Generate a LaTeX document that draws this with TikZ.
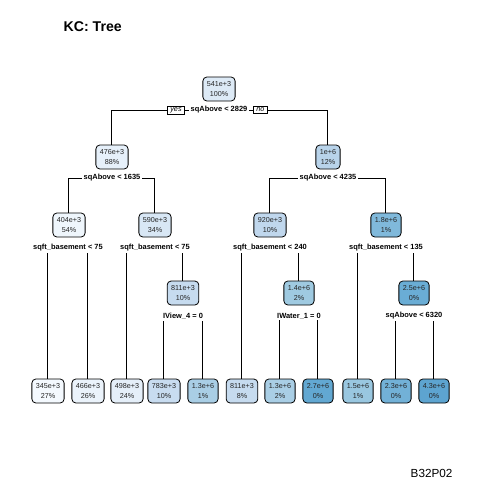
\documentclass[tikz,border=0pt]{standalone}
\usepackage{fontspec}
\setmainfont{Liberation Sans}
\usetikzlibrary{backgrounds}
\definecolor{v345}{HTML}{F4F9FE}
\definecolor{v404}{HTML}{EFF6FC}
\definecolor{v466}{HTML}{EBF3FB}
\definecolor{v476}{HTML}{E6F0FA}
\definecolor{v498}{HTML}{E5EFF9}
\definecolor{v541}{HTML}{DDEAF6}
\definecolor{v590}{HTML}{D8E7F5}
\definecolor{v783}{HTML}{C8DCF0}
\definecolor{v811}{HTML}{C6DBEF}
\definecolor{v920}{HTML}{C0D7ED}
\definecolor{v1000}{HTML}{B8D3EA}
\definecolor{v1300}{HTML}{A9CEE5}
\definecolor{v1400}{HTML}{9FCAE1}
\definecolor{v1500}{HTML}{99C7E0}
\definecolor{v1800}{HTML}{80B9DB}
\definecolor{v2300}{HTML}{72B1D7}
\definecolor{v2500}{HTML}{6AADD5}
\definecolor{v2700}{HTML}{62A8D2}
\definecolor{v4300}{HTML}{5DA4D0}
\begin{document}
\begin{tikzpicture} [
                x=0.75pt, y=-0.75pt,
                box/.style={draw, line width=0.6pt, rounded corners=3pt, align=center,
                    inner xsep=3pt, inner ysep=0pt, minimum height=18pt,
                    font=\fontsize{5.4}{7.4}\selectfont, text=black!85},
                split/.style={fill=white, inner sep=1pt, font=\bfseries\fontsize{5.6}{6}\selectfont},
                answer/.style={draw, fill=white, line width=0.6pt, inner xsep=2pt, inner ysep=1pt,
                    font=\itshape\fontsize{5.4}{6}\selectfont},
                edge/.style={draw, line width=0.75pt, -},
            ]
            \useasboundingbox (0,0) rectangle (480,480);
            % Title and tag
            \node[anchor=base west, font=\bfseries\fontsize{10.6}{12}\selectfont] (title) at (59,31) {KC: Tree};
            \node[anchor=base west, font=\fontsize{8.8}{10}\selectfont] (tag) at (406,477) {B32P02};
            % First we draw the boxes
            \foreach \pos/\name/\val/\pct/\col in {
                    {(219,89)/n1/541e+3/100\%/v541},
                    {(112,157)/n2/476e+3/88\%/v476}, {(328,157)/n3/1e+6/12\%/v1000},
                    {(69,225)/n4/404e+3/54\%/v404}, {(155,225)/n5/590e+3/34\%/v590},
                    {(270,225)/n6/920e+3/10\%/v920}, {(386,225)/n7/1.8e+6/1\%/v1800},
                    {(183,293)/n11/811e+3/10\%/v811}, {(299,293)/n13/1.4e+6/2\%/v1400},
                    {(414,293)/n15/2.5e+6/0\%/v2500},
                    {(48,391)/n8/345e+3/27\%/v345}, {(88,391)/n9/466e+3/26\%/v466},
                    {(127,391)/n10/498e+3/24\%/v498}, {(164,391)/n22/783e+3/10\%/v783},
                    {(203,391)/n23/1.3e+6/1\%/v1300}, {(242,391)/n12/811e+3/8\%/v811},
                    {(280,391)/n26/1.3e+6/2\%/v1300}, {(318,391)/n27/2.7e+6/0\%/v2700},
                    {(358,391)/n14/1.5e+6/1\%/v1500}, {(396,391)/n30/2.3e+6/0\%/v2300},
                    {(434,391)/n31/4.3e+6/0\%/v4300}}
                \node[box, fill=\col] (\name) at \pos {\val\\\pct};
            % Split labels under the inner boxes
            \foreach \pos/\name/\txt in {
                    {(219,110)/s1/sqAbove < 2829},
                    {(112,178)/s2/sqAbove < 1635}, {(328,178)/s3/sqAbove < 4235},
                    {(68,248)/s4/sqft\_basement < 75}, {(155,248)/s5/sqft\_basement < 75},
                    {(270,248)/s6/sqft\_basement < 240}, {(386,248)/s7/sqft\_basement < 135},
                    {(183,316)/s11/IView\_4 = 0}, {(299,316)/s13/IWater\_1 = 0},
                    {(414,316)/s15/sqAbove < 6320}}
                \node[split] (\name) at \pos {\txt};
            \node[answer] (yes) at (176,110) {yes};
            \node[answer] (no) at (260.5,110) {no};
            % Connect splits with their children
            \begin{scope}[on background layer]
            \foreach \source/ \dest in {
                    s1/n2, s1/n3, s2/n4, s2/n5, s3/n6, s3/n7,
                    s4/n8, s4/n9, s5/n10, s5/n11, s11/n22, s11/n23,
                    s6/n12, s6/n13, s13/n26, s13/n27,
                    s7/n14, s7/n15, s15/n30, s15/n31}
                \path[edge] (\source.center) -| (\dest.north);
            \end{scope}
        \end{tikzpicture}
\end{document}
